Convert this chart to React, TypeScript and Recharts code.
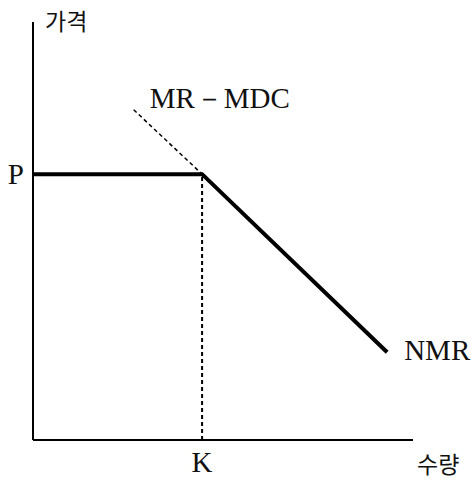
import React from 'react';
import { ComposedChart, Line, XAxis, YAxis, ReferenceDot } from 'recharts';

// values (axis units 0..100)
const quantityK = 44.5;
const priceP = 63.6;

const nmrX = [0, quantityK, 93.2];
const nmrY = [priceP, priceP, 21];

const mrMdcX = [26.5, quantityK];
const mrMdcY = [79, priceP];

const guideX = [quantityK, quantityK];
const guideY = [0, priceP];

const xTicks = [quantityK];
const yTicks = [priceP];
const xTickLabels = ['K'];
const yTickLabels = ['P'];

const toPoints = (xs: number[], ys: number[]) => xs.map((x, i) => ({ x, y: ys[i] }));

const nmrData = toPoints(nmrX, nmrY);
const mrMdcData = toPoints(mrMdcX, mrMdcY);
const guideData = toPoints(guideX, guideY);

const SERIF = '"Liberation Serif", "DejaVu Serif", serif';
const KOREAN = '"Noto Sans CJK KR", sans-serif';

const textAt = (text: string, dx: number, dy: number, font: string, size: number) =>
  (props: any) => {
    const vb = props.viewBox || {};
    const cx = (vb.x ?? 0) + (vb.width ?? 0) / 2;
    const cy = (vb.y ?? 0) + (vb.height ?? 0) / 2;
    return (
      <text x={cx + dx} y={cy + dy} fontFamily={font} fontSize={size} fill="#111">
        {text}
      </text>
    );
  };

const App: React.FC = () => {
  return (
    <div style={{ position: 'absolute', left: 0, top: 0, background: '#fff' }}>
      <ComposedChart width={471} height={479} margin={{ top: 22, right: 58, bottom: 9, left: 3 }}>
        <XAxis
          type="number"
          dataKey="x"
          domain={[0, 100]}
          ticks={xTicks}
          tickFormatter={(v: number) => xTickLabels[xTicks.indexOf(v)] ?? ''}
          axisLine={{ stroke: '#000', strokeWidth: 2 }}
          tickLine={false}
          tickSize={0}
          tickMargin={11}
          height={30}
          tick={{ fill: '#111', fontFamily: SERIF, fontSize: 29 }}
          allowDuplicatedCategory={false}
        />
        <YAxis
          type="number"
          dataKey="y"
          domain={[0, 100]}
          ticks={yTicks}
          tickFormatter={(v: number) => yTickLabels[yTicks.indexOf(v)] ?? ''}
          axisLine={{ stroke: '#000', strokeWidth: 2 }}
          tickLine={false}
          tickSize={0}
          tickMargin={9}
          width={30}
          tick={{ fill: '#111', fontFamily: SERIF, fontSize: 29 }}
        />
        <Line
          data={guideData}
          dataKey="y"
          stroke="#000"
          strokeWidth={2}
          strokeDasharray="4 3"
          dot={false}
          isAnimationActive={false}
        />
        <Line
          data={mrMdcData}
          dataKey="y"
          stroke="#000"
          strokeWidth={1.5}
          strokeDasharray="4 3"
          dot={false}
          isAnimationActive={false}
        />
        <Line
          data={nmrData}
          dataKey="y"
          stroke="#000"
          strokeWidth={4}
          strokeLinejoin="miter"
          dot={false}
          isAnimationActive={false}
        />
        <ReferenceDot x={0} y={100} r={0} ifOverflow="visible" label={textAt('가격', 12, 8, KOREAN, 23)} />
        <ReferenceDot x={100} y={0} r={0} ifOverflow="visible" label={textAt('수량', 4, 33, KOREAN, 23)} />
        <ReferenceDot
          x={mrMdcX[0]}
          y={mrMdcY[0]}
          r={0}
          ifOverflow="visible"
          label={textAt('MR－MDC', 16, -2, SERIF, 29)}
        />
        <ReferenceDot
          x={nmrX[2]}
          y={nmrY[2]}
          r={0}
          ifOverflow="visible"
          label={textAt('NMR', 17, 8, SERIF, 29)}
        />
      </ComposedChart>
    </div>
  );
};

export default App;
